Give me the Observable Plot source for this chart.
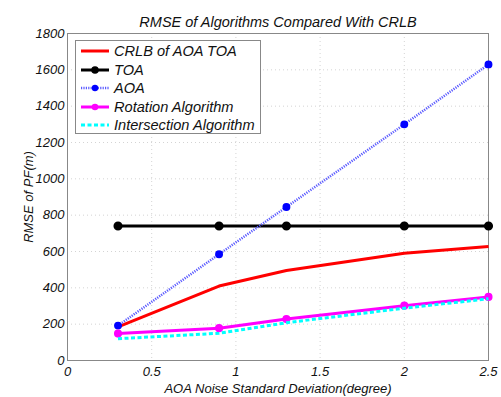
<!DOCTYPE html>
<html><head><meta charset="utf-8">
<script src="https://cdn.jsdelivr.net/npm/d3@7"></script>
<script src="https://cdn.jsdelivr.net/npm/@observablehq/plot@0.6"></script>
<style>
body{margin:0;background:#fff;}
#wrap{position:relative;width:501px;height:397px;font-family:"Liberation Sans",Arial,sans-serif;font-style:italic;}
#legend{position:absolute;left:75px;top:40px;width:186px;height:94px;border:1px solid #888;background:#fff;box-sizing:border-box;}
.row{position:absolute;left:0;height:18px;display:flex;align-items:center;font-size:14.6px;color:#111;white-space:nowrap;}
.row svg{margin-left:4px;margin-right:4px;}
</style></head>
<body><div id="wrap"></div>
<script>
const title = "RMSE of Algorithms Compared With CRLB";
const xLabel = "AOA Noise Standard Deviation(degree)";
const yLabel = "RMSE of PF(m)";
const noise = [0.3, 0.9, 1.3, 2.0, 2.5];
const crlb = [185, 410, 495, 590, 628];
const toa = [740, 740, 740, 740, 740];
const aoa = [192, 585, 845, 1300, 1630];
const rotation = [148, 178, 228, 302, 350];
const intersection = [120, 150, 208, 288, 340];
const xTicks = [0, 0.5, 1, 1.5, 2, 2.5];
const yTicks = [0, 200, 400, 600, 800, 1000, 1200, 1400, 1600, 1800];

const seriesNames = ["CRLB of AOA TOA", "TOA", "AOA", "Rotation Algorithm", "Intersection Algorithm"];
const styles = {
  "CRLB of AOA TOA": {stroke: "#ff0000", width: 3, dash: null, marker: false},
  "TOA": {stroke: "#000000", width: 3, dash: null, marker: true, r: 3.8},
  "AOA": {stroke: "#5a5aff", width: 2.5, dash: "1.2,1.2", marker: true, r: 3.2, fill: "#0000ff"},
  "Rotation Algorithm": {stroke: "#ff00ff", width: 3, dash: null, marker: true, r: 3.3},
  "Intersection Algorithm": {stroke: "#00ffff", width: 3, dash: "4,2.5", marker: false}
};
const valuesBy = [crlb, toa, aoa, rotation, intersection];
const data = seriesNames.flatMap((s, i) => noise.map((x, j) => ({series: s, x, y: valuesBy[i][j]})));

const marks = [
  Plot.gridX(xTicks, {stroke: "#d4d4d4", strokeOpacity: 1, strokeWidth: 1, strokeDasharray: "1,3"}),
  Plot.gridY(yTicks, {stroke: "#d4d4d4", strokeOpacity: 1, strokeWidth: 1, strokeDasharray: "1,3"}),
  Plot.frame({stroke: "#888"}),
  Plot.axisX(xTicks, {tickSize: 0, tickPadding: 6, fontSize: 13, label: xLabel, labelAnchor: "center", labelArrow: "none", labelOffset: 32, tickFormat: d => String(d)}),
  Plot.axisY(yTicks, {tickSize: 0, tickPadding: 3, fontSize: 13, label: yLabel, labelAnchor: "center", labelArrow: "none", labelOffset: 44, tickFormat: d => String(d)}),
  Plot.text([title], {frameAnchor: "top", dy: -17, fontSize: 14.5, fill: "#111"})
];
for (const s of seriesNames) {
  const st = styles[s];
  const d = data.filter(r => r.series === s);
  marks.push(Plot.line(d, {x: "x", y: "y", stroke: st.stroke, strokeWidth: st.width, strokeDasharray: st.dash, strokeLinecap: "butt"}));
  if (st.marker) marks.push(Plot.dot(d, {x: "x", y: "y", r: st.r, fill: st.fill || st.stroke, stroke: st.fill || st.stroke}));
}

const chart = Plot.plot({
  width: 501, height: 397,
  marginLeft: 67, marginRight: 13, marginTop: 33, marginBottom: 37,
  style: {fontFamily: "Liberation Sans, Arial, sans-serif", fontStyle: "italic", fontSize: "14.5px", color: "#111"},
  x: {domain: [0, 2.5]},
  y: {domain: [0, 1800]},
  marks
});
const wrap = document.getElementById("wrap");
wrap.appendChild(chart);

const leg = document.createElement("div");
leg.id = "legend";
seriesNames.forEach((s, i) => {
  const st = styles[s];
  const row = document.createElement("div");
  row.className = "row";
  row.style.top = (1 + i * 18.5) + "px";
  const sv = d3.create("svg").attr("width", 30).attr("height", 10);
  sv.append("line").attr("x1", 1).attr("x2", 29).attr("y1", 5).attr("y2", 5)
    .attr("stroke", st.stroke).attr("stroke-width", st.width).attr("stroke-dasharray", st.dash);
  if (st.marker) sv.append("circle").attr("cx", 15).attr("cy", 5).attr("r", st.r).attr("fill", st.fill || st.stroke);
  row.appendChild(sv.node());
  const t = document.createElement("span");
  t.textContent = s;
  row.appendChild(t);
  leg.appendChild(row);
});
wrap.appendChild(leg);
</script></body></html>
